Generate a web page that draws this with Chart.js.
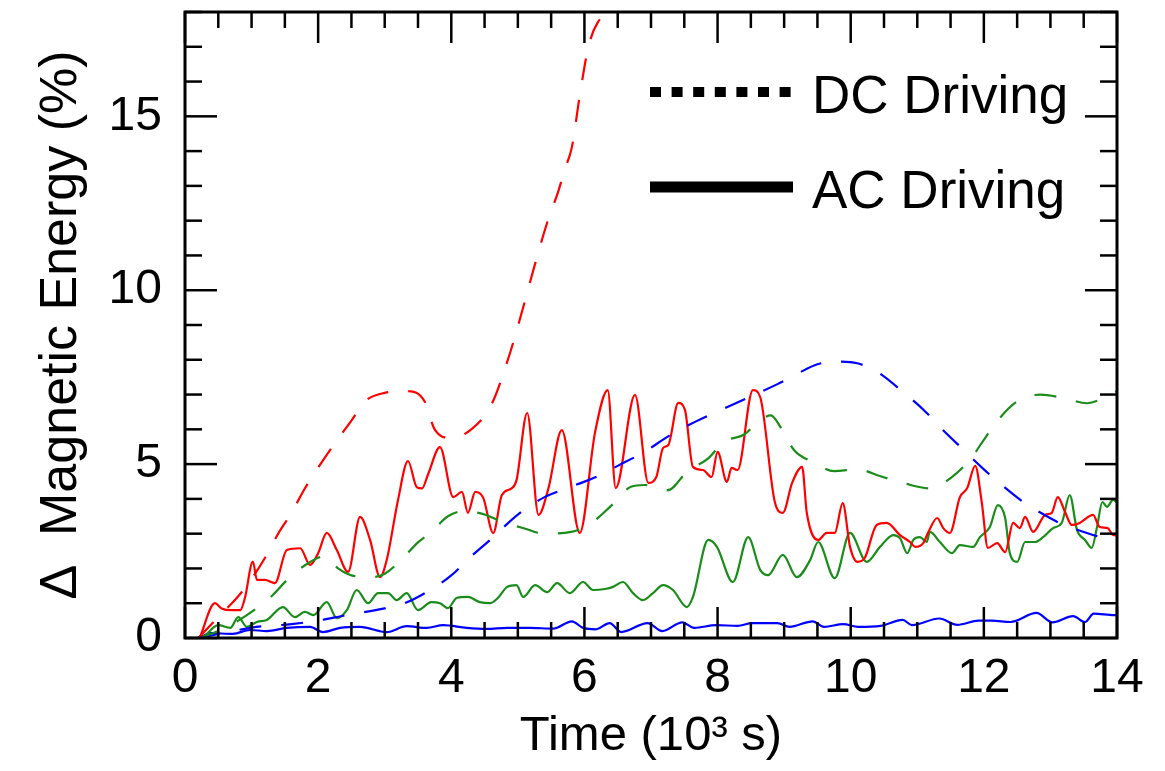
<!DOCTYPE html>
<html>
<head>
<meta charset="utf-8">
<title>Magnetic energy</title>
<script src="https://cdn.jsdelivr.net/npm/chart.js@4"></script>
<style>
  body { margin: 0; background: #fff; }
</style>
</head>
<body>
<canvas id="chart" width="1165" height="771"></canvas>
<script>
// tick labels
var xTicks = [0, 2, 4, 6, 8, 10, 12, 14]
var yTicks = [0, 5, 10, 15]

// DC driving (dashed)
var redDcT = [0.2, 0.5, 0.8, 1.0, 1.2, 1.4, 1.6, 1.8, 2.0, 2.25, 2.5, 2.7, 3.0, 3.35, 3.6, 3.75, 4.0, 4.3, 4.6, 4.85, 5.05, 5.25, 5.45, 5.6, 5.71, 5.81, 5.93, 6.06, 6.2, 6.43, 6.8, 7.0]
var redDcV = [0, 0.6, 1.2, 1.7, 2.3, 3.0, 3.6, 4.3, 4.9, 5.6, 6.25, 6.8, 7.05, 7.1, 6.8, 6.0, 5.75, 6.0, 6.7, 8.0, 9.3, 10.7, 12.0, 12.8, 13.5, 14.1, 15.6, 17.0, 17.7, 18.0, 18.3, 19]

var greenDcT = [0.2, 0.5, 0.8, 1.0, 1.3, 1.55, 1.85, 2.1, 2.3, 2.5, 2.8, 3.0, 3.25, 3.5, 3.7, 3.95, 4.2, 4.5, 4.75, 5.1, 5.4, 5.8, 6.1, 6.4, 6.7, 6.9, 7.25, 7.55, 7.85, 8.1, 8.4, 8.6, 8.8, 8.95, 9.15, 9.45, 9.75, 10.1, 10.45, 10.8, 11.2, 11.5, 11.8, 12.0, 12.25, 12.5, 12.85, 13.2, 13.55, 13.9, 14.0]
var greenDcV = [0, 0.2, 0.5, 0.75, 1.2, 1.7, 2.15, 2.35, 2.0, 1.8, 1.75, 1.85, 2.25, 2.75, 3.05, 3.5, 3.65, 3.55, 3.35, 3.15, 3.0, 3.05, 3.3, 3.8, 4.35, 4.4, 4.25, 4.8, 5.15, 5.65, 5.85, 6.2, 6.4, 6.05, 5.4, 5.05, 4.8, 4.85, 4.65, 4.45, 4.3, 4.6, 5.15, 5.7, 6.35, 6.8, 7.0, 6.9, 6.75, 7.0, 7.1]

var blueDcT = [0.2, 0.6, 1.0, 1.6, 2.0, 2.4, 3.0, 3.3, 3.7, 4.0, 4.3, 4.6, 5.0, 5.4, 5.8, 6.2, 6.5, 6.9, 7.3, 7.7, 8.1, 8.5, 8.9, 9.2, 9.5, 9.8, 10.1, 10.4, 10.8, 11.1, 11.4, 11.7, 12.0, 12.3, 12.6, 12.9, 13.2, 13.5, 13.8, 14.0]
var blueDcV = [0, 0.15, 0.3, 0.4, 0.5, 0.65, 0.85, 1.0, 1.4, 1.8, 2.35, 2.85, 3.55, 4.05, 4.35, 4.65, 4.95, 5.35, 5.85, 6.25, 6.6, 6.95, 7.3, 7.6, 7.87, 7.95, 7.9, 7.65, 7.05, 6.55, 5.95, 5.4, 4.85, 4.35, 3.9, 3.55, 3.25, 3.05, 2.87, 2.75]

// AC driving (solid)
var redAcT = [0.22, 0.45, 0.55, 0.7, 0.83, 0.9, 1.02, 1.08, 1.2, 1.35, 1.53, 1.73, 1.88, 2.0, 2.13, 2.28, 2.45, 2.63, 2.78, 2.93, 3.03, 3.2, 3.35, 3.48, 3.56, 3.65, 3.83, 4.03, 4.16, 4.25, 4.36, 4.48, 4.63, 4.76, 4.91, 4.98, 5.14, 5.31, 5.46, 5.66, 5.93, 6.16, 6.35, 6.47, 6.76, 6.96, 7.08, 7.18, 7.26, 7.41, 7.51, 7.63, 7.78, 7.91, 8.0, 8.14, 8.21, 8.3, 8.53, 8.64, 8.86, 8.98, 9.12, 9.27, 9.34, 9.51, 9.64, 9.76, 9.88, 9.99, 10.1, 10.21, 10.39, 10.54, 10.74, 10.89, 10.97, 11.09, 11.16, 11.3, 11.39, 11.49, 11.64, 11.75, 11.87, 11.97, 12.06, 12.2, 12.32, 12.44, 12.54, 12.62, 12.74, 12.92, 13.02, 13.11, 13.22, 13.32, 13.44, 13.64, 13.74, 13.86, 13.94, 14.0]
var redAcV = [0, 1.0, 0.85, 0.8, 0.8, 1.15, 2.2, 1.67, 1.67, 1.58, 2.53, 2.58, 2.1, 2.44, 3.02, 2.53, 1.9, 3.48, 2.82, 1.75, 2.24, 3.97, 5.09, 4.34, 4.3, 4.7, 5.49, 4.05, 4.2, 3.6, 4.2, 4.03, 3.02, 4.11, 4.31, 4.54, 6.47, 3.54, 4.31, 5.98, 3.02, 5.92, 7.13, 4.31, 6.99, 4.46, 4.63, 5.46, 5.55, 6.76, 6.56, 4.92, 4.83, 4.63, 5.35, 4.49, 4.89, 4.83, 7.13, 6.93, 3.91, 3.6, 4.46, 4.92, 3.6, 2.82, 3.02, 3.02, 3.88, 2.62, 2.19, 2.3, 3.25, 3.31, 2.96, 2.76, 2.62, 2.73, 3.02, 3.45, 3.16, 3.02, 4.05, 4.31, 4.95, 3.88, 2.59, 2.73, 2.47, 3.31, 3.16, 3.48, 3.05, 3.54, 3.6, 4.05, 3.62, 3.25, 3.31, 3.54, 3.19, 3.16, 2.96, 2.95]

var greenAcT = [0.27, 0.5, 0.68, 0.8, 0.93, 1.08, 1.23, 1.47, 1.65, 1.8, 1.93, 2.13, 2.28, 2.43, 2.58, 2.75, 2.9, 3.05, 3.18, 3.33, 3.5, 3.7, 3.83, 3.95, 4.08, 4.25, 4.43, 4.58, 4.7, 4.84, 4.98, 5.08, 5.26, 5.44, 5.59, 5.78, 5.98, 6.13, 6.31, 6.43, 6.58, 6.73, 6.88, 7.03, 7.18, 7.33, 7.54, 7.63, 7.86, 7.99, 8.23, 8.46, 8.64, 8.76, 8.98, 9.19, 9.39, 9.51, 9.76, 9.99, 10.24, 10.44, 10.64, 10.74, 10.85, 10.94, 11.04, 11.14, 11.19, 11.34, 11.52, 11.64, 11.84, 11.94, 12.09, 12.21, 12.32, 12.39, 12.5, 12.62, 12.77, 12.89, 13.04, 13.17, 13.29, 13.4, 13.52, 13.62, 13.7, 13.78, 13.85, 13.94, 14.0]
var greenAcV = [0, 0.37, 0.29, 0.6, 0.32, 0.46, 0.52, 0.89, 0.6, 0.75, 0.66, 1.03, 0.57, 0.8, 1.38, 1.0, 1.29, 1.29, 1.09, 1.29, 0.8, 1.03, 1.0, 0.86, 1.15, 1.18, 1.03, 1.0, 1.15, 1.47, 1.52, 1.18, 1.52, 1.32, 1.58, 1.29, 1.61, 1.38, 1.41, 1.47, 1.61, 1.29, 1.09, 1.29, 1.52, 1.38, 0.89, 1.18, 2.82, 2.62, 1.61, 2.9, 1.96, 1.81, 2.39, 1.75, 2.24, 2.76, 1.72, 3.02, 2.19, 2.62, 2.96, 2.87, 2.44, 2.82, 2.9, 2.76, 3.05, 2.76, 2.44, 2.67, 2.62, 2.9, 3.19, 3.82, 3.45, 2.44, 2.19, 2.76, 2.76, 2.9, 3.16, 3.31, 4.11, 3.1, 2.82, 2.59, 3.19, 3.91, 3.77, 3.97, 3.9]

var blueAcT = [0.22, 0.38, 0.72, 0.98, 1.23, 1.53, 1.88, 2.07, 2.33, 2.63, 3.03, 3.33, 3.63, 3.88, 4.23, 4.53, 4.84, 5.18, 5.53, 5.81, 5.98, 6.17, 6.38, 6.55, 6.95, 7.17, 7.47, 7.65, 7.98, 8.3, 8.52, 8.9, 9.08, 9.43, 9.6, 9.89, 10.11, 10.45, 10.78, 10.92, 11.33, 11.6, 11.92, 12.12, 12.4, 12.79, 13.03, 13.34, 13.52, 13.65, 13.96, 14.0]
var blueAcV = [0, 0.14, 0.12, 0.23, 0.2, 0.29, 0.32, 0.17, 0.29, 0.32, 0.17, 0.34, 0.29, 0.37, 0.29, 0.26, 0.29, 0.29, 0.27, 0.48, 0.29, 0.25, 0.43, 0.17, 0.43, 0.2, 0.45, 0.29, 0.37, 0.35, 0.43, 0.43, 0.32, 0.48, 0.32, 0.4, 0.32, 0.35, 0.52, 0.37, 0.56, 0.38, 0.5, 0.5, 0.46, 0.72, 0.45, 0.63, 0.46, 0.7, 0.66, 0.66]

const RED = '#ff0000'
const GREEN = '#1a8c1a'
const BLUE = '#0000ff'
const FONT = "'Liberation Sans', Arial, Helvetica, sans-serif"

const pts = (t, v) => t.map((tt, i) => ({ x: tt, y: v[i] }))

const line = (t, v, color, dashed) => ({
    data: pts(t, v),
    borderColor: color,
    borderWidth: 2.2,
    borderDash: dashed ? [22, 20] : [],
    pointRadius: 0,
    cubicInterpolationMode: 'monotone',
    fill: false
})

// inward ticks on all four sides plus the box
const frameTicks = {
    id: 'frameTicks',
    afterDatasetsDraw(chart) {
        const { ctx, chartArea: a, scales: { x, y } } = chart
        ctx.save()
        ctx.strokeStyle = '#000'
        ctx.lineWidth = 2.5
        ctx.lineCap = 'butt'
        const seg = (x1, y1, x2, y2) => {
            ctx.beginPath(); ctx.moveTo(x1, y1); ctx.lineTo(x2, y2); ctx.stroke()
        }
        for (let i = 0; i <= 28; i++) {
            const v = i * 0.5
            const px = x.getPixelForValue(v)
            const len = xTicks.includes(v) ? 31 : 16
            seg(px, a.bottom, px, a.bottom - len)
            seg(px, a.top, px, a.top + len)
        }
        for (let v = 0; v <= 18; v++) {
            const py = y.getPixelForValue(v)
            const len = yTicks.includes(v) ? 32 : 17
            seg(a.left, py, a.left + len, py)
            seg(a.right, py, a.right - len, py)
        }
        ctx.lineWidth = 3
        ctx.strokeRect(a.left, a.top, a.right - a.left, a.bottom - a.top)
        ctx.restore()
    }
}

// legend: DC dotted, AC solid
const driveLegend = {
    id: 'driveLegend',
    afterDraw(chart) {
        const { ctx, chartArea: a } = chart
        const x0 = a.left + 465
        ctx.save()
        ctx.strokeStyle = '#000'
        ctx.lineCap = 'butt'
        ctx.lineWidth = 10
        ctx.setLineDash([11, 10.6])
        ctx.beginPath(); ctx.moveTo(x0, a.top + 80); ctx.lineTo(x0 + 141, a.top + 80); ctx.stroke()
        ctx.setLineDash([])
        ctx.lineWidth = 11
        ctx.beginPath(); ctx.moveTo(x0, a.top + 175); ctx.lineTo(x0 + 143, a.top + 175); ctx.stroke()
        ctx.fillStyle = '#000'
        ctx.font = '53px ' + FONT
        ctx.textBaseline = 'alphabetic'
        ctx.fillText('DC Driving', x0 + 162, a.top + 101)
        ctx.fillText('AC Driving', x0 + 162, a.top + 196)
        ctx.restore()
    }
}

// keep the plot box where the reference has it, no label overhang padding
const noPad = s => {
    s.paddingTop = 0
    s.paddingBottom = 0
    s.paddingLeft = 0
    s.paddingRight = 0
}

new Chart(document.getElementById('chart'), {
    type: 'line',
    data: {
        datasets: [
            line(redDcT, redDcV, RED, true),
            line(greenDcT, greenDcV, GREEN, true),
            line(blueDcT, blueDcV, BLUE, true),
            line(redAcT, redAcV, RED, false),
            line(greenAcT, greenAcV, GREEN, false),
            line(blueAcT, blueAcV, BLUE, false)
        ]
    },
    options: {
        responsive: false,
        animation: false,
        devicePixelRatio: 1,
        layout: { autoPadding: false, padding: { left: 0, top: 12, right: 48, bottom: 0 } },
        plugins: { legend: { display: false }, tooltip: { enabled: false } },
        scales: {
            x: {
                type: 'linear',
                min: 0,
                max: 14,
                afterBuildTicks: s => { s.ticks = xTicks.map(v => ({ value: v })) },
                afterFit: s => { s.height = 133; noPad(s) },
                grid: { display: false, drawTicks: false },
                border: { display: false },
                ticks: { color: '#000', padding: 12, maxRotation: 0, font: { family: FONT, size: 48 } },
                title: {
                    display: true,
                    text: 'Time (10³ s)',
                    color: '#000',
                    font: { family: FONT, size: 49, lineHeight: 1 },
                    padding: { top: 0, bottom: 10 }
                }
            },
            y: {
                min: 0,
                max: 18,
                afterBuildTicks: s => { s.ticks = yTicks.map(v => ({ value: v })) },
                afterFit: s => { s.width = 185; noPad(s) },
                grid: { display: false, drawTicks: false },
                border: { display: false },
                ticks: { color: '#000', padding: 23, font: { family: FONT, size: 48 } },
                title: {
                    display: true,
                    text: 'Δ  Magnetic Energy (%)',
                    color: '#000',
                    font: { family: FONT, size: 52, lineHeight: 1 },
                    padding: { top: 36, bottom: 0 }
                }
            }
        }
    },
    plugins: [frameTicks, driveLegend]
})
</script>
</body>
</html>
